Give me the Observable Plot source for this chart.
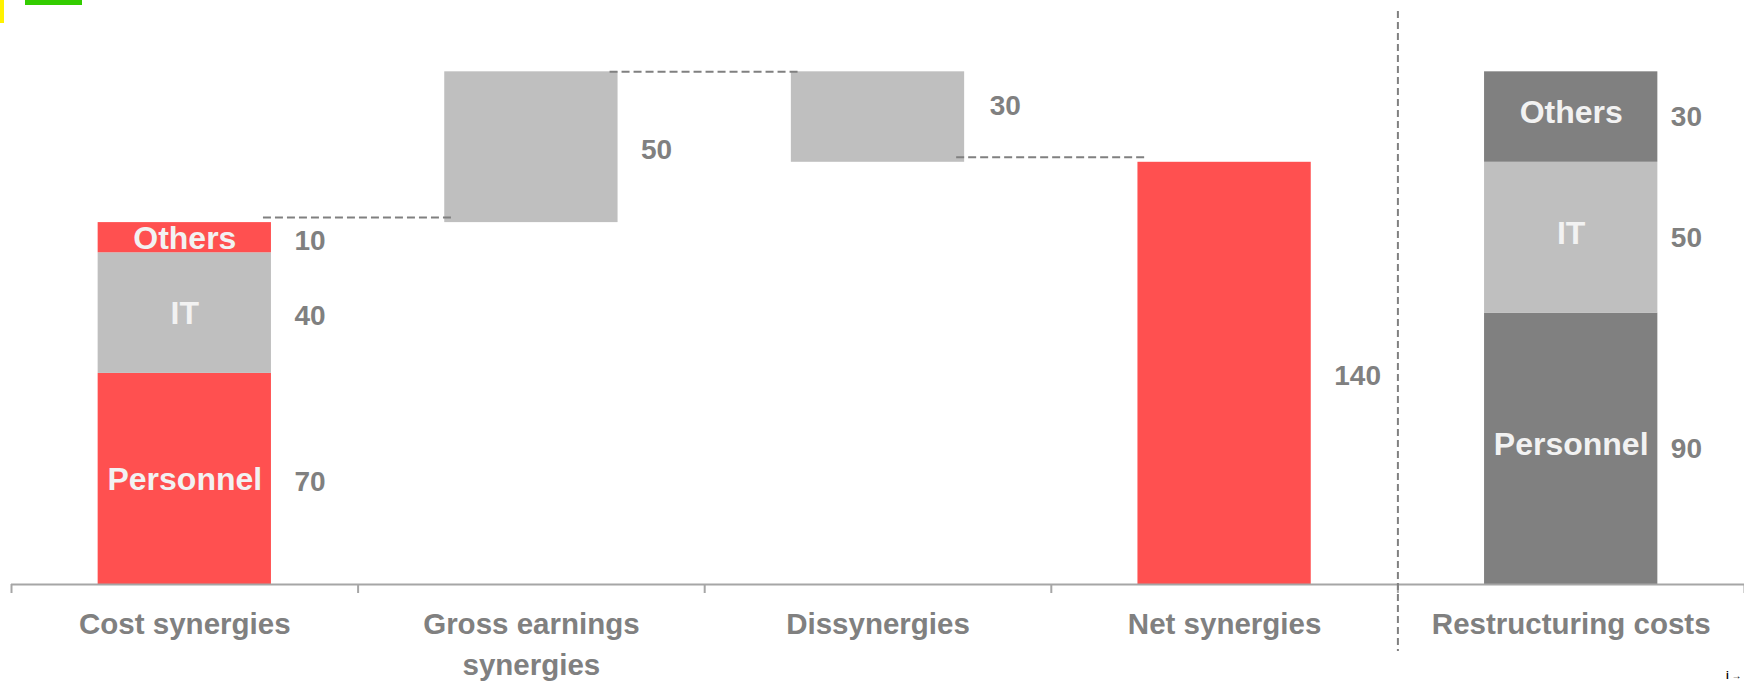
<!DOCTYPE html>
<html>
<head>
<meta charset="utf-8">
<script src="https://cdn.jsdelivr.net/npm/d3@7"></script>
<script src="https://cdn.jsdelivr.net/npm/@observablehq/plot@0.6"></script>
<style>
  html, body { margin: 0; padding: 0; background: #ffffff; overflow: hidden; }
  #wrap { position: relative; width: 1744px; height: 681px; overflow: hidden; }
  #wrap svg { display: block; }
  .deco { position: absolute; top: 0; }
</style>
</head>
<body>
<div id="wrap">
  <div class="deco" style="left:0;width:4px;height:23px;background:#fff200;"></div>
  <div class="deco" style="left:25px;width:57px;height:5px;background:#33cc00;"></div>
</div>
<script>
// ---- data ----
const categories = ["Cost synergies", "Gross earnings\nsynergies", "Dissynergies", "Net synergies", "Restructuring costs"];
const costParts = ["Personnel", "IT", "Others"];
const costValues = [70, 40, 10];
const grossEarningsSynergies = 50;
const dissynergies = -30;
const netSynergies = 140;
const restructuringParts = ["Personnel", "IT", "Others"];
const restructuringValues = [90, 50, 30];

// ---- styles ----
const RED = "#ff5050", LIGHT = "#bfbfbf", DARK = "#808080";
const costColors = {Personnel: RED, IT: LIGHT, Others: RED};
const restrColors = {Personnel: DARK, IT: LIGHT, Others: DARK};

// ---- build segments ----
const segments = [];
let acc = 0;
costParts.forEach((p, k) => {
  segments.push({i: 0, name: p, value: costValues[k], y1: acc, y2: acc + costValues[k], color: costColors[p]});
  acc += costValues[k];
});
const costTotal = acc;
const grossTop = costTotal + grossEarningsSynergies;
segments.push({i: 1, name: null, value: grossEarningsSynergies, y1: costTotal, y2: grossTop, color: LIGHT});
const afterDis = grossTop + dissynergies;
segments.push({i: 2, name: null, value: -dissynergies, y1: afterDis, y2: grossTop, color: LIGHT});
segments.push({i: 3, name: null, value: netSynergies, y1: 0, y2: netSynergies, color: RED});
acc = 0;
restructuringParts.forEach((p, k) => {
  segments.push({i: 4, name: p, value: restructuringValues[k], y1: acc, y2: acc + restructuringValues[k], color: restrColors[p]});
  acc += restructuringValues[k];
});

const connectorsA = [{from: 0, level: costTotal}, {from: 2, level: afterDis}];
const connectorsB = [{from: 1, level: grossTop}];
const boundaries = d3.range(categories.length + 1).map(k => k - 0.5);
const mid = d => (d.y1 + d.y2) / 2;

const FONT = "'Liberation Sans', Arial, Helvetica, sans-serif";
const valueStyle = {textAnchor: "start", fill: "#808080", fontSize: 28, fontWeight: "bold"};

const chart = Plot.plot({
  width: 1744,
  height: 681,
  marginLeft: 11,
  marginRight: 0,
  marginTop: 11,
  marginBottom: 97,
  x: {type: "linear", domain: [-0.5, categories.length - 0.5]},
  y: {domain: [0, 190], axis: null},
  color: {type: "identity"},
  style: {fontFamily: FONT, fontWeight: "bold", background: "transparent", overflow: "visible"},
  marks: [
    Plot.rect(segments, {x1: d => d.i - 0.25, x2: d => d.i + 0.25, y1: "y1", y2: "y2", fill: "color"}),
    Plot.ruleY([0], {stroke: "#a6a6a6", strokeWidth: 2}),
    Plot.axisX({ticks: boundaries, tickSize: 9, tickFormat: () => "", stroke: "#a6a6a6", strokeWidth: 2}),
    Plot.ruleX([categories.length - 1.5], {stroke: "#808080", strokeWidth: 2, strokeDasharray: "7,4", insetBottom: -67}),
    Plot.ruleY(connectorsA, {y: "level", x1: d => d.from + 0.25, x2: d => d.from + 0.75, insetLeft: -8, insetRight: -10, dy: -5, stroke: "#808080", strokeWidth: 2, strokeDasharray: "8,4"}),
    Plot.ruleY(connectorsB, {y: "level", x1: d => d.from + 0.25, x2: d => d.from + 0.75, insetLeft: -8, insetRight: -8, stroke: "#808080", strokeWidth: 2, strokeDasharray: "8,4"}),
    // inside labels
    Plot.text(segments.filter(d => d.name && d.i === 0), {x: "i", y: mid, text: "name", fill: "#f2f2f2", fontSize: 32, fontWeight: "bold", dy: 1}),
    Plot.text(segments.filter(d => d.name && d.i === 4), {x: "i", y: mid, text: "name", fill: "#f2f2f2", fontSize: 32, fontWeight: "bold", dy: -4}),
    // value labels
    Plot.text(segments.filter(d => d.i !== 4 && d.i !== 2), {x: d => d.i + 0.25, y: mid, text: d => String(d.value), dx: 23, dy: 3, ...valueStyle}),
    Plot.text(segments.filter(d => d.i === 2), {x: d => d.i + 0.25, y: mid, text: d => String(d.value), dx: 25, dy: -11, ...valueStyle}),
    Plot.text(segments.filter(d => d.i === 4), {x: d => d.i + 0.25, y: mid, text: d => String(d.value), dx: 13, dy: 0, ...valueStyle}),
    // category labels
    Plot.text(categories, {x: (d, k) => k, y: () => 0, text: d => d, lineAnchor: "top", dy: 21, lineHeight: 1.38, fill: "#808080", fontSize: 29.5, fontWeight: "bold"})
  ]
});
document.getElementById("wrap").prepend(chart);
</script>
</body>
</html>
